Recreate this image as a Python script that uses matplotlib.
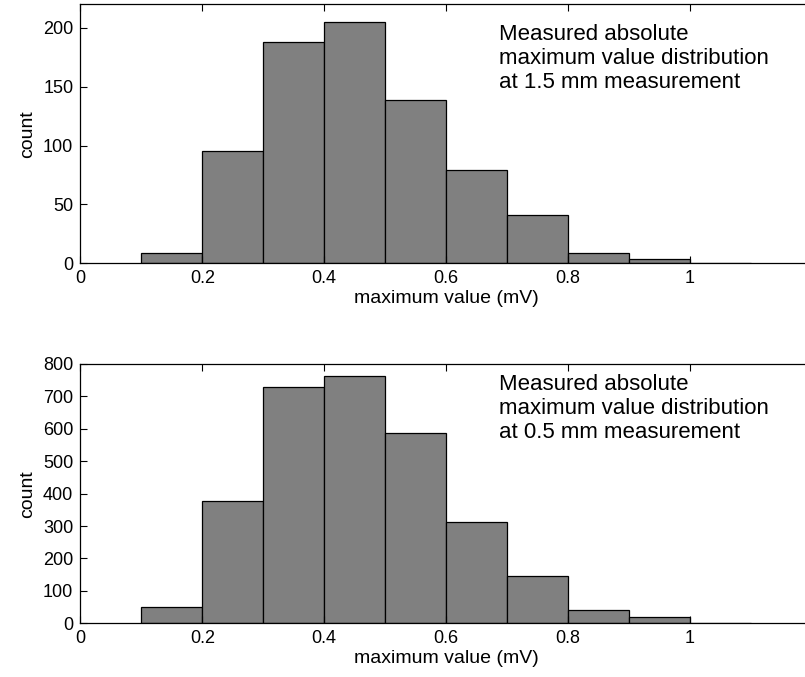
import matplotlib

matplotlib.use("Agg")
import matplotlib.pyplot as plt
import numpy as np

plt.rcParams["font.family"] = ["Liberation Sans", "DejaVu Sans"]

# bin edges (mV) and counts
bin_edges = [0.1, 0.2, 0.3, 0.4, 0.5, 0.6, 0.7, 0.8, 0.9, 1.0, 1.1]
counts_15mm = [9, 95, 188, 205, 139, 79, 41, 9, 4, 0]
counts_05mm = [50, 377, 729, 764, 586, 313, 146, 41, 18, 2]

notes = [
    "Measured absolute\nmaximum value distribution\nat 1.5 mm measurement",
    "Measured absolute\nmaximum value distribution\nat 0.5 mm measurement",
]
note_y = [0.925, 0.962]
ylims = [220, 800]
yticks = [np.arange(0, 201, 50), np.arange(0, 801, 100)]
xticks = [0, 0.2, 0.4, 0.6, 0.8, 1]
xticklabels = ["0", "0.2", "0.4", "0.6", "0.8", "1"]

fig = plt.figure(figsize=(8.05, 6.77), dpi=100)
W, H = 805, 677
boxes = [(80.3, 4.3, 812, 263.3), (80.3, 364, 812, 623.3)]

for i, counts in enumerate([counts_15mm, counts_05mm]):
    x0, y0, x1, y1 = boxes[i]
    ax = fig.add_axes([x0 / W, 1 - y1 / H, (x1 - x0) / W, (y1 - y0) / H])
    ax.bar(bin_edges[:-1], counts, width=np.diff(bin_edges), align="edge",
           color="#808080", edgecolor="black", linewidth=0.9)
    ax.set_xlim(0, 1.2)
    ax.set_ylim(0, ylims[i])
    ax.set_xticks(xticks)
    ax.set_xticklabels(xticklabels)
    ax.set_yticks(yticks[i])
    ax.tick_params(direction="in", top=True, right=True, length=5,
                   labelsize=13, pad=5)
    for s in ax.spines.values():
        s.set_linewidth(0.9)
    ax.set_xlabel("maximum value (mV)", fontsize=14, labelpad=2)
    ax.set_ylabel("count", fontsize=14, labelpad=5)
    ax.text(0.686, note_y[i], notes[i], transform=ax.get_xaxis_transform(),
            fontsize=16, va="top", ha="left", linespacing=1.2)

fig.savefig("out.png", dpi=100)
